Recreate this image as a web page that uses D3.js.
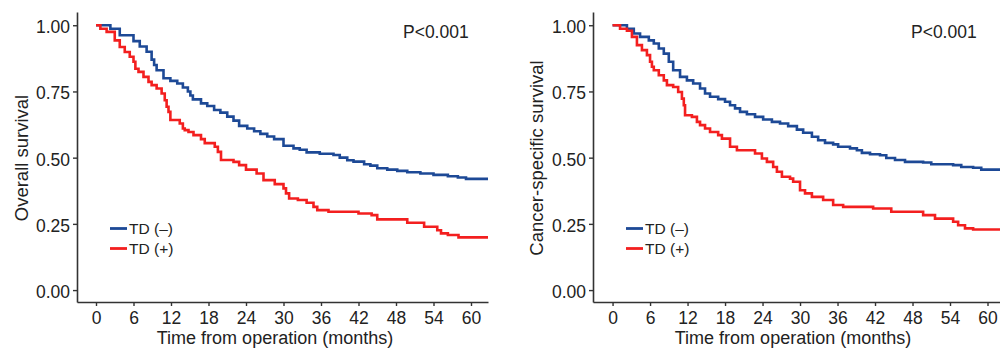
<!DOCTYPE html>
<html>
<head>
<meta charset="utf-8">
<script src="https://cdn.jsdelivr.net/npm/d3@7"></script>
<style>
  html, body { margin: 0; padding: 0; background: #fff; }
  svg { display: block; font-family: "Liberation Sans", Arial, sans-serif; }
</style>
</head>
<body>
<svg id="chart" width="1000" height="348"></svg>
<script>
/* Kaplan-Meier steps: time (months) and survival after each drop */
const osNegTime = [0, 2.3, 3.8, 6.0, 7.0, 8.1, 8.9, 9.3, 9.7, 10.8, 11.9, 13.0, 13.9, 14.7, 15.1, 15.5, 16.8, 17.8, 18.9, 19.9, 21.0, 22.0, 22.9, 24.2, 25.3, 26.3, 27.4, 28.5, 30.0, 31.6, 32.6, 33.7, 35.8, 38.0, 39.0, 40.2, 41.2, 42.9, 43.9, 45.0, 46.6, 48.2, 49.8, 51.9, 54.0, 56.3, 57.9, 59.2];
const osNegSurv = [1, 0.987, 0.962, 0.94, 0.92, 0.90, 0.87, 0.85, 0.83, 0.80, 0.79, 0.78, 0.765, 0.75, 0.735, 0.72, 0.705, 0.695, 0.68, 0.67, 0.655, 0.64, 0.62, 0.61, 0.60, 0.59, 0.58, 0.57, 0.545, 0.535, 0.53, 0.52, 0.515, 0.51, 0.50, 0.49, 0.485, 0.475, 0.47, 0.46, 0.455, 0.45, 0.445, 0.44, 0.435, 0.43, 0.425, 0.42];

const osPosTime = [0, 0.7, 1.7, 3.0, 3.8, 4.6, 5.4, 6.0, 6.3, 6.8, 7.6, 8.4, 8.9, 9.7, 10.5, 11.0, 11.3, 11.6, 11.9, 13.4, 13.9, 14.2, 14.8, 15.6, 16.8, 17.4, 19.0, 19.5, 20.0, 22.0, 22.9, 24.0, 25.7, 26.8, 28.6, 30.0, 30.4, 30.9, 32.3, 33.7, 34.8, 35.4, 37.2, 42.0, 44.1, 45.0, 49.8, 52.5, 54.6, 55.2, 56.3, 58.0];
const osPosSurv = [1, 0.987, 0.975, 0.943, 0.918, 0.899, 0.881, 0.862, 0.836, 0.824, 0.805, 0.786, 0.774, 0.761, 0.742, 0.717, 0.692, 0.673, 0.642, 0.629, 0.610, 0.604, 0.597, 0.585, 0.57, 0.555, 0.541, 0.522, 0.491, 0.484, 0.472, 0.455, 0.44, 0.415, 0.40, 0.384, 0.365, 0.346, 0.34, 0.33, 0.314, 0.302, 0.296, 0.289, 0.283, 0.267, 0.254, 0.239, 0.226, 0.214, 0.208, 0.199];

const cssNegTime = [0, 2.3, 3.4, 4.4, 5.8, 6.6, 7.4, 8.2, 9.0, 9.7, 10.8, 11.9, 12.9, 14.0, 14.8, 15.6, 16.9, 18.0, 18.8, 19.6, 20.4, 21.5, 22.8, 24.1, 25.5, 26.8, 28.1, 29.5, 30.5, 31.9, 32.9, 34.0, 35.3, 36.1, 38.0, 39.1, 39.9, 41.2, 42.8, 43.8, 45.2, 46.8, 49.7, 51.0, 54.5, 55.8, 57.7, 59.0];
const cssNegSurv = [1, 0.987, 0.969, 0.956, 0.943, 0.931, 0.912, 0.893, 0.862, 0.830, 0.805, 0.792, 0.780, 0.761, 0.742, 0.730, 0.721, 0.711, 0.698, 0.686, 0.673, 0.664, 0.654, 0.644, 0.635, 0.629, 0.619, 0.606, 0.594, 0.579, 0.566, 0.556, 0.550, 0.541, 0.535, 0.528, 0.518, 0.513, 0.509, 0.499, 0.491, 0.484, 0.482, 0.475, 0.472, 0.465, 0.462, 0.455];

const cssPosTime = [0, 1.2, 2.3, 3.1, 3.9, 4.7, 5.5, 6.0, 6.3, 6.6, 7.4, 8.2, 8.7, 9.7, 10.5, 11.1, 11.4, 11.6, 12.7, 13.5, 14.0, 14.8, 15.6, 16.9, 17.5, 18.8, 19.9, 22.8, 23.9, 24.7, 25.7, 26.3, 27.1, 28.4, 28.9, 30.0, 30.8, 31.9, 33.7, 35.3, 36.9, 41.7, 44.6, 49.7, 51.6, 54.5, 55.3, 56.4, 57.7];
const cssPosSurv = [1, 0.987, 0.979, 0.956, 0.925, 0.906, 0.887, 0.862, 0.843, 0.830, 0.811, 0.792, 0.774, 0.767, 0.748, 0.723, 0.698, 0.660, 0.654, 0.635, 0.623, 0.610, 0.597, 0.585, 0.572, 0.541, 0.528, 0.516, 0.497, 0.484, 0.465, 0.447, 0.428, 0.421, 0.409, 0.377, 0.365, 0.352, 0.340, 0.321, 0.314, 0.308, 0.296, 0.283, 0.270, 0.258, 0.245, 0.233, 0.229];

const groupLabels = ['TD (\u2013)', 'TD (+)'];
const xTicks = [0, 6, 12, 18, 24, 30, 36, 42, 48, 54, 60];
const yTicks = [0, 0.25, 0.5, 0.75, 1];
const pText = 'P<0.001';

const colors = ['#1d4996', '#f31f1f'];

const svg = d3.select('#chart');

/* One survival panel: scales, axes, two step curves, legend and p-value */
function drawPanel(opts) {
  const x = d3.scaleLinear().domain(opts.xDomain).range(opts.xRange);
  const y = d3.scaleLinear().domain([-0.045, 1.05]).range([302, 12]);
  const g = svg.append('g');

  const clipId = 'clip' + opts.id;
  svg.append('clipPath').attr('id', clipId)
    .append('rect')
    .attr('x', opts.xRange[0]).attr('y', 0)
    .attr('width', opts.xRange[1] - opts.xRange[0]).attr('height', 302);

  const line = d3.line()
    .x(d => x(d[0]))
    .y(d => y(d[1]))
    .curve(d3.curveStepAfter);

  opts.series.forEach((s, i) => {
    const pts = s.time.map((t, k) => [t, s.surv[k]]);
    pts.push([opts.xDomain[1], s.surv[s.surv.length - 1]]);
    g.append('path')
      .datum(pts)
      .attr('clip-path', `url(#${clipId})`)
      .attr('fill', 'none')
      .attr('stroke', colors[i])
      .attr('stroke-width', 2.6)
      .attr('d', line);
  });

  const xAxis = g.append('g')
    .attr('transform', 'translate(0,302)')
    .call(d3.axisBottom(x).tickValues(xTicks).tickSize(4).tickSizeOuter(0));
  const yAxis = g.append('g')
    .attr('transform', `translate(${opts.xRange[0]},0)`)
    .call(d3.axisLeft(y).tickValues(yTicks).tickFormat(d3.format('.2f')).tickSize(4).tickPadding(3).tickSizeOuter(0));

  [xAxis, yAxis].forEach(a => {
    a.select('.domain').attr('stroke', '#333').attr('stroke-width', 1.6);
    a.selectAll('.tick line').attr('stroke', '#333').attr('stroke-width', 1.4);
    a.selectAll('.tick text')
      .attr('fill', '#222')
      .style('font-size', '17.5px')
      .style('font-family', '"Liberation Sans", Arial, sans-serif');
  });
  xAxis.selectAll('.tick text').attr('y', 21.5).attr('dy', 0);
  yAxis.selectAll('.tick text').attr('dy', '0.42em');

  /* axis titles */
  g.append('text')
    .attr('x', opts.xTitleX).attr('y', 343.5)
    .attr('text-anchor', 'middle')
    .attr('fill', '#222')
    .style('font-size', '18px')
    .text('Time from operation (months)');

  g.append('text')
    .attr('transform', `translate(${opts.yTitleX},158) rotate(-90)`)
    .attr('text-anchor', 'middle')
    .attr('fill', '#222')
    .style('font-size', '18.5px')
    .text(opts.yTitle);

  /* p-value */
  g.append('text')
    .attr('x', opts.pX).attr('y', 38)
    .attr('fill', '#222')
    .style('font-size', '17.5px')
    .text(pText);

  /* legend */
  const leg = g.append('g').attr('transform', `translate(${opts.legX},228.5)`);
  groupLabels.forEach((lab, i) => {
    leg.append('line')
      .attr('x1', 0).attr('x2', 17)
      .attr('y1', i * 20).attr('y2', i * 20)
      .attr('stroke', colors[i]).attr('stroke-width', 2.8);
    leg.append('text')
      .attr('x', 19).attr('y', i * 20)
      .attr('dy', '0.36em')
      .attr('fill', '#222')
      .style('font-size', '15.5px')
      .text(lab);
  });
}

drawPanel({
  id: 'L',
  xDomain: [-3.04, 62.72],
  xRange: [77, 488],
  series: [
    { time: osNegTime, surv: osNegSurv },
    { time: osPosTime, surv: osPosSurv }
  ],
  yTitle: 'Overall survival',
  yTitleX: 28,
  xTitleX: 275,
  pX: 403,
  legX: 110
});

drawPanel({
  id: 'R',
  xDomain: [-3.13, 62.0],
  xRange: [593, 1000],
  series: [
    { time: cssNegTime, surv: cssNegSurv },
    { time: cssPosTime, surv: cssPosSurv }
  ],
  yTitle: 'Cancer-specific survival',
  yTitleX: 543,
  xTitleX: 793,
  pX: 911,
  legX: 626
});
</script>
</body>
</html>
